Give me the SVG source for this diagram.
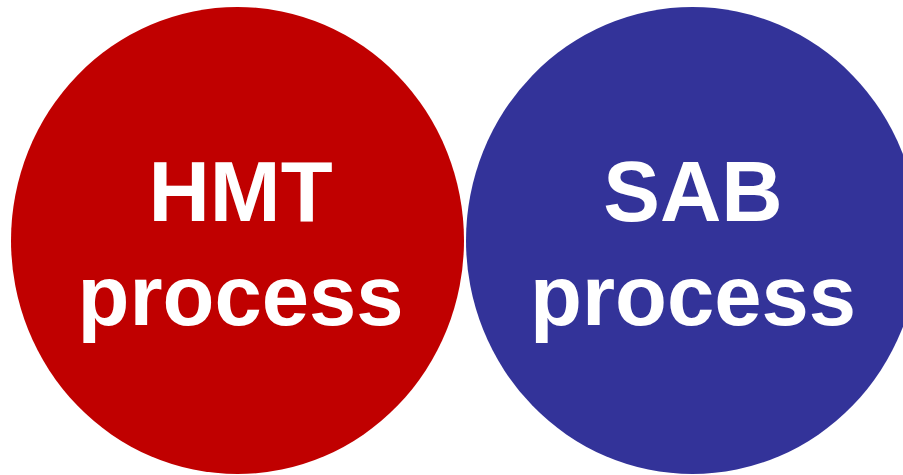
<svg xmlns="http://www.w3.org/2000/svg" width="903" height="475" viewBox="0 0 903 475">
<style>
.lbl{font-family:"Liberation Sans",Arial,sans-serif;font-weight:bold;font-size:85px;fill:#ffffff;text-anchor:middle}
</style>
<rect width="903" height="475" fill="#ffffff"/>
<g id="hmt">
<ellipse cx="237.5" cy="240.5" rx="226.5" ry="233.5" fill="#C00000"/>
<text class="lbl" x="240.5" y="221">HMT</text>
<text class="lbl" x="240.5" y="325">process</text>
</g>
<g id="sab">
<ellipse cx="692.5" cy="240.5" rx="226.5" ry="233.5" fill="#333399"/>
<text class="lbl" x="693" y="221">SAB</text>
<text class="lbl" x="693" y="325">process</text>
</g>
<g id="connectors"/>
</svg>
